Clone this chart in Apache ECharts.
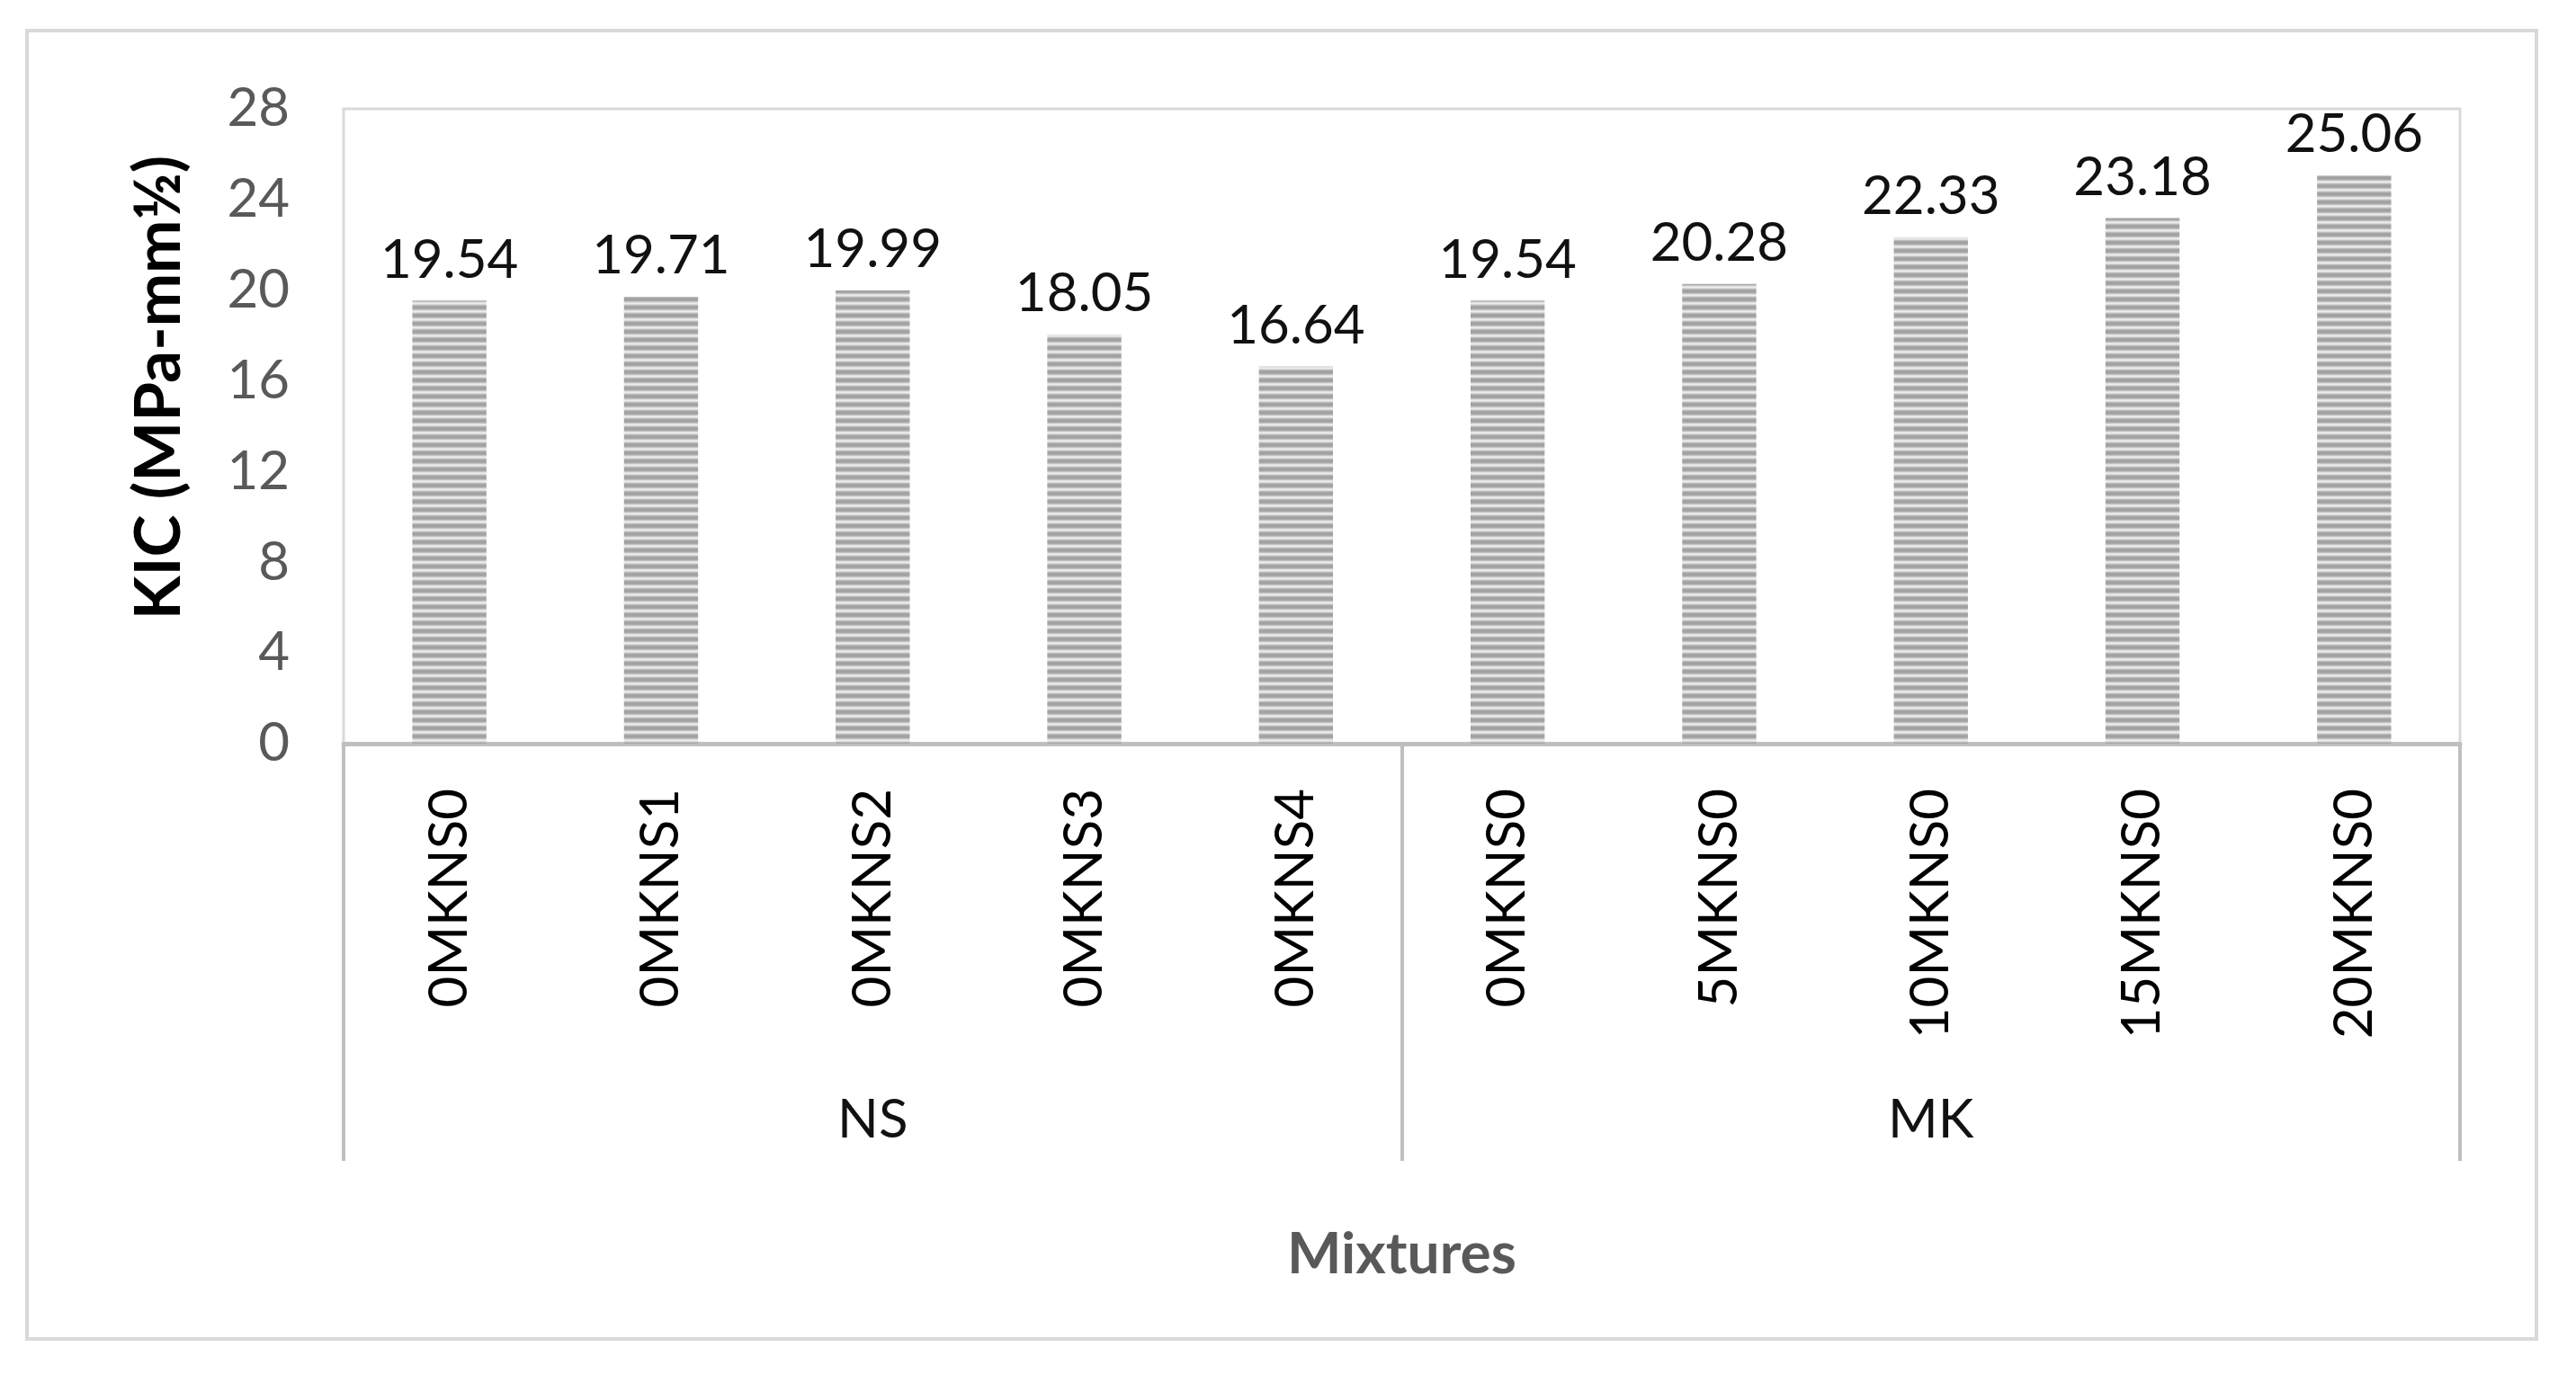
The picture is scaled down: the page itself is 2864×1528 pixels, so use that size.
<!DOCTYPE html>
<html>
<head>
<meta charset="utf-8">
<script src="https://cdn.jsdelivr.net/npm/echarts@6/dist/echarts.min.js"></script>
<style>
    html, body { margin: 0; padding: 0; background: #fff; }
    #kic { width: 2864px; height: 1528px; }
</style>
</head>
<body>
<div id="kic"></div>
<script>
// mixtures, in the order they appear on the axis
const categories = ['0MKNS0', '0MKNS1', '0MKNS2', '0MKNS3', '0MKNS4', '0MKNS0', '5MKNS0', '10MKNS0', '15MKNS0', '20MKNS0'];
const groups = ['NS', 'MK'];
const kicValues = [19.54, 19.71, 19.99, 18.05, 16.64, 19.54, 20.28, 22.33, 23.18, 25.06];
const yMin = 0;
const yMax = 28;
const yStep = 4;

!(function (window) {
    const { echarts } = window;
    const chart = echarts.init(document.getElementById('kic'));
    const FONT = 'Lato';

    // narrow horizontal stripes, like the excel pattern fill
    const stripe = document.createElement('canvas');
    stripe.width = 8;
    stripe.height = 9;
    const ctx = stripe.getContext('2d');
    const rows = ['#a2a2a2', '#aaaaaa', '#c2c2c2', '#e0e0e0', '#ececec', '#dadada', '#bbbbbb', '#a8a8a8', '#a0a0a0'];
    rows.forEach((c, i) => {
        ctx.fillStyle = c;
        ctx.fillRect(0, i, 8, 1);
    });

    const option = {
        backgroundColor: '#fff',
        animation: false,
        grid: {
            left: 382,
            right: 129,
            top: 121,
            bottom: 701,
            show: true,
            borderColor: '#d9d9d9',
            borderWidth: 3,
        },
        xAxis: [
            {
                type: 'category',
                data: categories,
                position: 'bottom',
                axisLine: { lineStyle: { color: '#bfbfbf', width: 5 } },
                axisTick: { show: false },
                axisLabel: {
                    interval: 0,
                    rotate: 90,
                    margin: 50,
                    fontFamily: FONT,
                    fontSize: 60,
                    color: '#000',
                },
            },
            {
                type: 'category',
                data: groups,
                position: 'bottom',
                axisLine: { show: false },
                axisTick: {
                    show: true,
                    length: 464,
                    lineStyle: { color: '#bfbfbf', width: 4 },
                },
                axisLabel: {
                    margin: 389,
                    fontFamily: FONT,
                    fontSize: 60,
                    color: '#111',
                },
                name: 'Mixtures',
                nameLocation: 'middle',
                nameGap: 536,
                nameTextStyle: {
                    fontFamily: FONT,
                    fontSize: 64,
                    fontWeight: 'bold',
                    color: '#595959',
                },
            },
        ],
        yAxis: {
            type: 'value',
            min: yMin,
            max: yMax,
            interval: yStep,
            axisLine: { show: false },
            axisTick: { show: false },
            splitLine: { show: false },
            axisLabel: {
                margin: 60,
                fontFamily: FONT,
                fontSize: 60,
                color: '#595959',
            },
        },
        series: [{
            type: 'bar',
            data: kicValues,
            barWidth: '35%',
            itemStyle: {
                color: { image: stripe, repeat: 'repeat' },
            },
            label: {
                show: true,
                position: 'top',
                distance: 15,
                fontFamily: FONT,
                fontSize: 60,
                color: '#111',
                formatter: p => p.value.toFixed(2),
            },
        }],
        graphic: [
            {
                type: 'rect',
                z: -1,
                shape: { x: 30, y: 34, width: 2790, height: 1455 },
                style: { fill: 'none', stroke: '#d9d9d9', lineWidth: 4 },
            },
            {
                type: 'text',
                x: 177,
                y: 431,
                rotation: Math.PI / 2,
                style: {
                    text: 'KIC (MPa-mm½)',
                    fontFamily: FONT,
                    fontSize: 71,
                    fontWeight: 'bold',
                    fill: '#000',
                    align: 'center',
                    verticalAlign: 'middle',
                },
            },
        ],
    };

    chart.setOption(option);
}(window));
</script>
</body>
</html>
